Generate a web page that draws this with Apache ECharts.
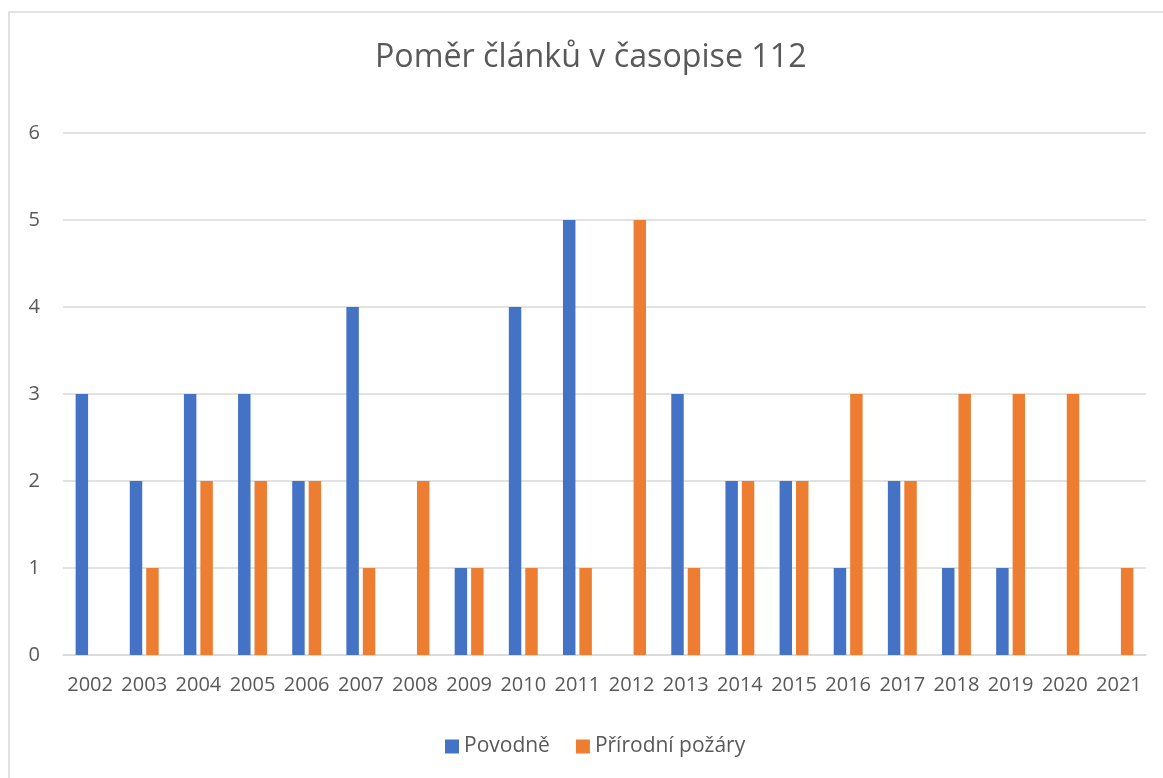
<!DOCTYPE html>
<html>
<head>
<meta charset="utf-8">
<script src="https://cdn.jsdelivr.net/npm/echarts@6/dist/echarts.min.js"></script>
<style>
  html, body { margin: 0; padding: 0; background: #fff; }
  #chart { width: 1163px; height: 778px; }
</style>
</head>
<body>
<div id="chart"></div>
<script>
// data
const years = ['2002', '2003', '2004', '2005', '2006', '2007', '2008', '2009', '2010', '2011',
  '2012', '2013', '2014', '2015', '2016', '2017', '2018', '2019', '2020', '2021']
const povodne = [3, 2, 3, 3, 2, 4, 0, 1, 4, 5, 0, 3, 2, 2, 1, 2, 1, 1, 0, 0]
const pozary = [0, 1, 2, 2, 2, 1, 2, 1, 1, 1, 5, 1, 2, 2, 3, 2, 3, 3, 3, 1]

const textColor = '#595959'
const font = '"Open Sans", "Noto Sans", sans-serif'

const chart = echarts.init(document.getElementById('chart'))
chart.setOption({
  animation: false,
  textStyle: { fontFamily: font },
  graphic: [{
    type: 'rect',
    shape: { x: 9, y: 12, width: 1170, height: 800 },
    style: { fill: 'none', stroke: '#d9d9d9', lineWidth: 1.5 },
    silent: true
  }],
  title: {
    text: 'Poměr článků v časopise 112',
    left: 370,
    top: 37,
    textStyle: { color: textColor, fontSize: 32.2, fontWeight: 'normal', fontFamily: font }
  },
  legend: {
    bottom: 16,
    left: 440,
    itemWidth: 14,
    itemHeight: 14,
    itemGap: 26,
    icon: 'rect',
    textStyle: { color: textColor, fontSize: 21, fontFamily: font }
  },
  grid: { left: 63, right: 17, top: 133, bottom: 123 },
  xAxis: {
    type: 'category',
    data: years,
    axisTick: { show: false },
    axisLine: { lineStyle: { color: '#d9d9d9', width: 1.5 } },
    axisLabel: { color: textColor, fontSize: 20, margin: 20, interval: 0 }
  },
  yAxis: {
    type: 'value',
    min: 0,
    max: 6,
    interval: 1,
    axisLabel: { color: textColor, fontSize: 20, margin: 23 },
    splitLine: { lineStyle: { color: '#d9d9d9', width: 1.5 } }
  },
  series: [
    {
      name: 'Povodně',
      type: 'bar',
      data: povodne,
      barWidth: '23%',
      barGap: '32%',
      itemStyle: { color: '#4472C4' }
    },
    {
      name: 'Přírodní požáry',
      type: 'bar',
      data: pozary,
      barWidth: '23%',
      itemStyle: { color: '#ED7D31' }
    }
  ]
})
</script>
</body>
</html>
